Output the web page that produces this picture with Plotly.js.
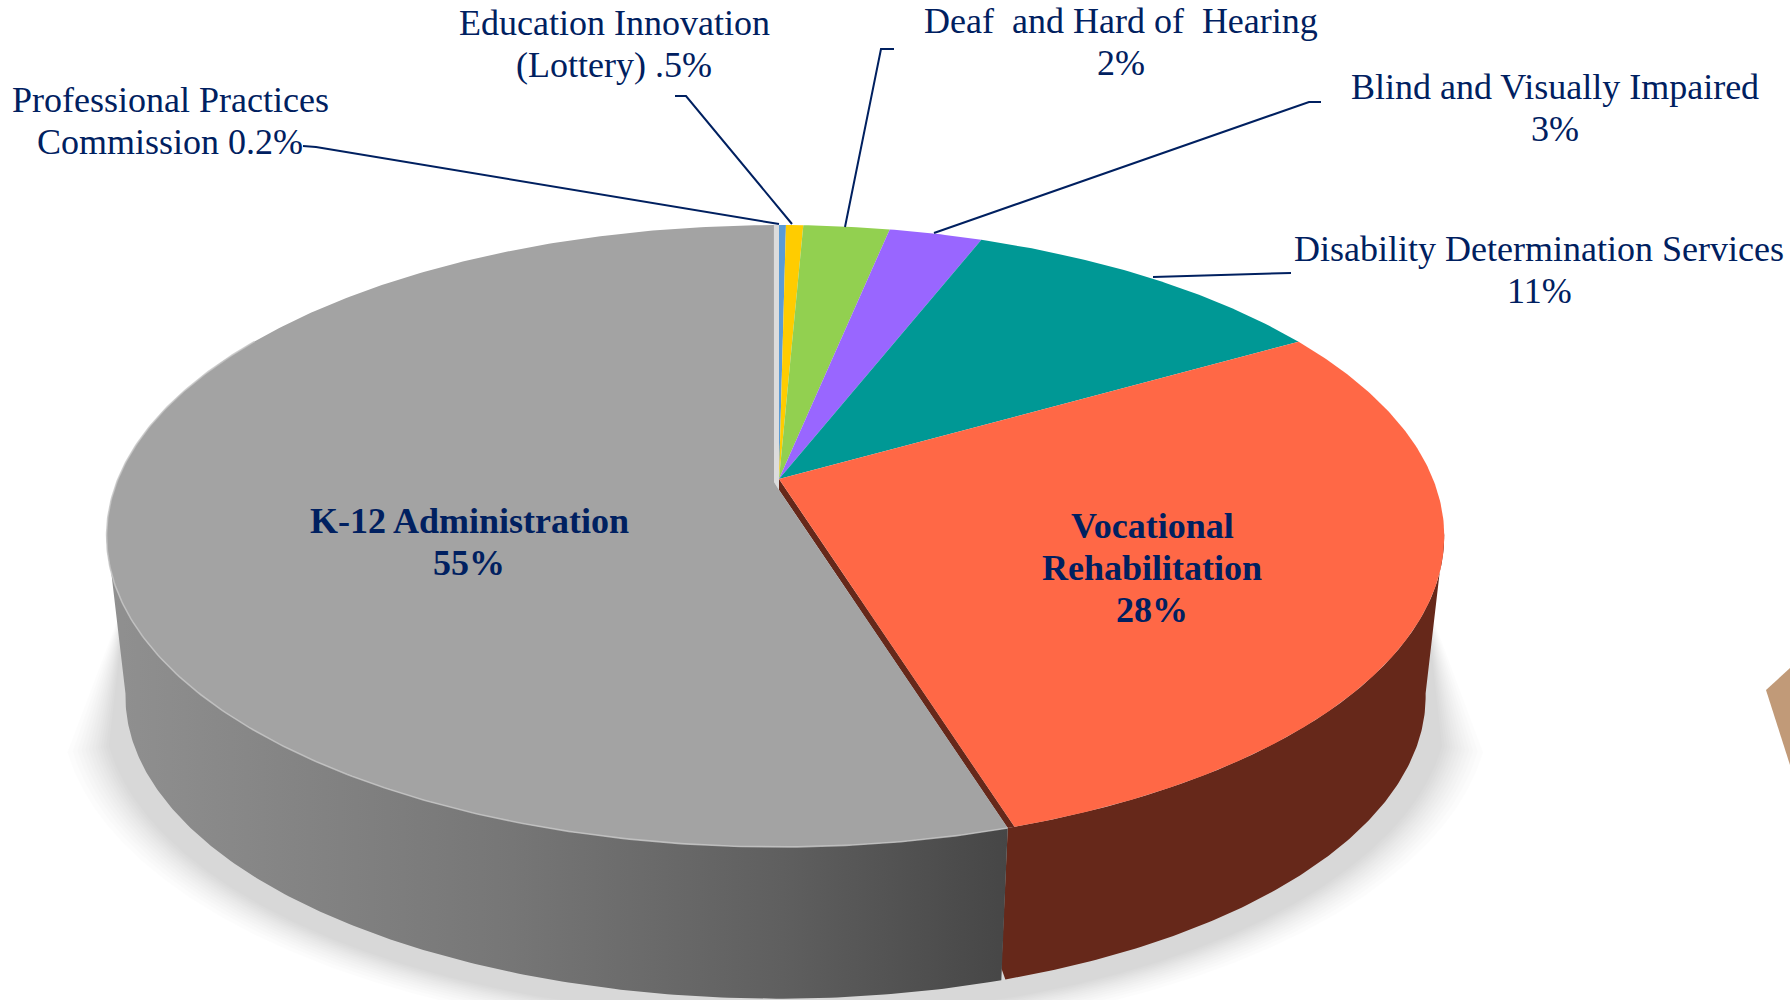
<!DOCTYPE html>
<html>
<head>
<meta charset="utf-8">
<script src="https://cdn.plot.ly/plotly-3.0.1.min.js"></script>
<style>html,body{margin:0;padding:0;background:#fff}#chart{width:1790px;height:1000px}</style>
</head>
<body>
<div id="chart"></div>
<script>
// Values, clockwise from 12 o'clock (percent)
const categories = ['Professional Practices Commission','Education Innovation (Lottery)','Deaf and Hard of Hearing','Blind and Visually Impaired','Disability Determination Services','Vocational Rehabilitation','K-12 Administration'];
const values = [0.2, 0.5, 2.5, 2.7, 10.8, 28.5, 54.8];
const colors = ['#5b9bd5','#ffcc00','#92d050','#9966ff','#009895','#ff6846','#a3a3a3'];
const labelLines = [['Professional Practices','Commission 0.2%'],['Education Innovation','(Lottery) .5%'],['Deaf\u00a0 and Hard of\u00a0 Hearing','2%'],['Blind and Visually Impaired','3%'],['Disability Determination Services','11%'],['<b>Vocational</b>','<b>Rehabilitation</b>','<b>28%</b>'],['<b>K-12 Administration</b>','<b>55%</b>']];
const labelX = [170, 614, 1121, 1555, 1539, 1152, 469];
const labelY = [121, 44, 42, 108, 270, 568, 542];

// Perspective projection of the pie disc
const AX = 779, AY = 479, K = 0.1833, B = 300.5, AL = 661, AR = 654;
const DEPTH = 162, BSCALE = 0.972;
const GAP = 0.52;
function proj(deg, s, dy) {
  const t = deg * Math.PI / 180, u = Math.sin(t), v = Math.cos(t), w = 1 + K * v;
  return [AX + s * (u < 0 ? AL : AR) * u / w, AY + dy - s * B * v / w];
}
function arc(a, b, s, dy) {
  s = s === undefined ? 1 : s; dy = dy || 0;
  const n = Math.max(2, Math.ceil(Math.abs(b - a) / 0.5)), p = [];
  for (let i = 0; i <= n; i++) p.push(proj(a + (b - a) * i / n, s, dy));
  return p;
}
function poly(pts, color, extra) {
  return Object.assign({type:'scatter', mode:'lines', x:pts.map(p=>p[0]), y:pts.map(p=>p[1]),
    fill:'toself', fillcolor:color, line:{width:0, color:color}, hoverinfo:'skip', showlegend:false}, extra||{});
}
const total = values.reduce((a,b)=>a+b,0);
const bounds = [0];
values.forEach(v => bounds.push(bounds[bounds.length-1] + v / total * 360));
const kStart = bounds[6], kEnd = bounds[7];

const traces = [];
// soft ground shadow
const shadowSteps = [1.068,1.06,1.053,1.047,1.041,1.036,1.031,1.026,1.022,1.018,1.014,1.01,1.006];
shadowSteps.forEach(s => {
  const a = arc(108, 252, s, DEPTH + 6);
  traces.push(poly([proj(100,BSCALE,DEPTH-95)].concat(a, [proj(260,BSCALE,DEPTH-95)]), 'rgba(0,0,0,0.0125)'));
});
const kTopCorner = proj(kStart + GAP, 1, 0);
const kBotCorner = proj(kStart + GAP, BSCALE, DEPTH);
// walls
traces.push(poly(arc(100, kStart, 1, 0).concat([kTopCorner],[[kBotCorner[0],kBotCorner[1]-12]], arc(kStart+0.2, 100, BSCALE, DEPTH)), '#66281a'));
traces.push(poly(arc(kStart+GAP, 260, 1, 0).concat(arc(260, kStart+GAP, BSCALE, DEPTH)), '#777',
  {fillgradient:{type:'horizontal', colorscale:[[0,'#909090'],[0.45,'#767676'],[0.75,'#5f5f5f'],[1,'#464646']]}}));
// inner faces of the pulled-out K-12 slice
traces.push(poly([[AX,AY],[AX,AY+11],kTopCorner,proj(kStart,1,0)], '#66281a'));
traces.push(poly(arc(kEnd-GAP, kEnd).concat([[AX,AY+11],[AX-5,AY+3]]), '#dcdcdc'));
// top faces
values.forEach((v,i) => {
  if (i === 6) {
    traces.push(poly(arc(kStart+GAP, kEnd-GAP).concat([[AX-5,AY+3],[AX,AY+11]]), colors[i], {name:categories[i]}));
  } else {
    traces.push(poly([[AX,AY]].concat(arc(bounds[i], bounds[i+1])), colors[i], {name:categories[i]}));
  }
});
// bevel highlight on the K-12 rim
const rim = arc(kStart+GAP,300);
traces.push({type:'scatter', mode:'lines', x:rim.map(p=>p[0]), y:rim.map(p=>p[1]),
  line:{width:1.6,color:'#c6c6c6'}, opacity:0.8, hoverinfo:'skip', showlegend:false});

const navy = '#002060';
const LINE_GAP = 42;
const annotations = [];
labelLines.forEach((lines,i)=>lines.forEach((t,j)=>annotations.push({text:t, x:labelX[i], y:labelY[i]+(j-(lines.length-1)/2)*LINE_GAP, xref:'x', yref:'y', xanchor:'center', yanchor:'middle',
  align:'center', showarrow:false, font:{family:'"Liberation Serif", serif', size:36, color:navy}})));

function leader(d){return {type:'path', xref:'x', yref:'y', path:d, line:{color:navy,width:2}};}
const shapes = [
  leader('M303,146 L316,147 L779,224'),
  leader('M675,96 L686,96 L792,224'),
  leader('M894,49 L881,49 L845,227'),
  leader('M1321,102 L1309,102 L934,233'),
  leader('M1291,273 L1153,277'),
  {type:'path', xref:'x', yref:'y', path:'M1766,690 L1790,668 L1790,765 Z', fillcolor:'#c19a78', line:{width:0}}
];

Plotly.newPlot('chart', traces, {
  width:1790, height:1000, margin:{l:0,r:0,t:0,b:0}, paper_bgcolor:'#fff', plot_bgcolor:'#fff', showlegend:false,
  xaxis:{range:[0,1790], visible:false, fixedrange:true},
  yaxis:{range:[1000,0], visible:false, fixedrange:true},
  annotations:annotations, shapes:shapes
}, {displayModeBar:false, staticPlot:true});
</script>
</body>
</html>
